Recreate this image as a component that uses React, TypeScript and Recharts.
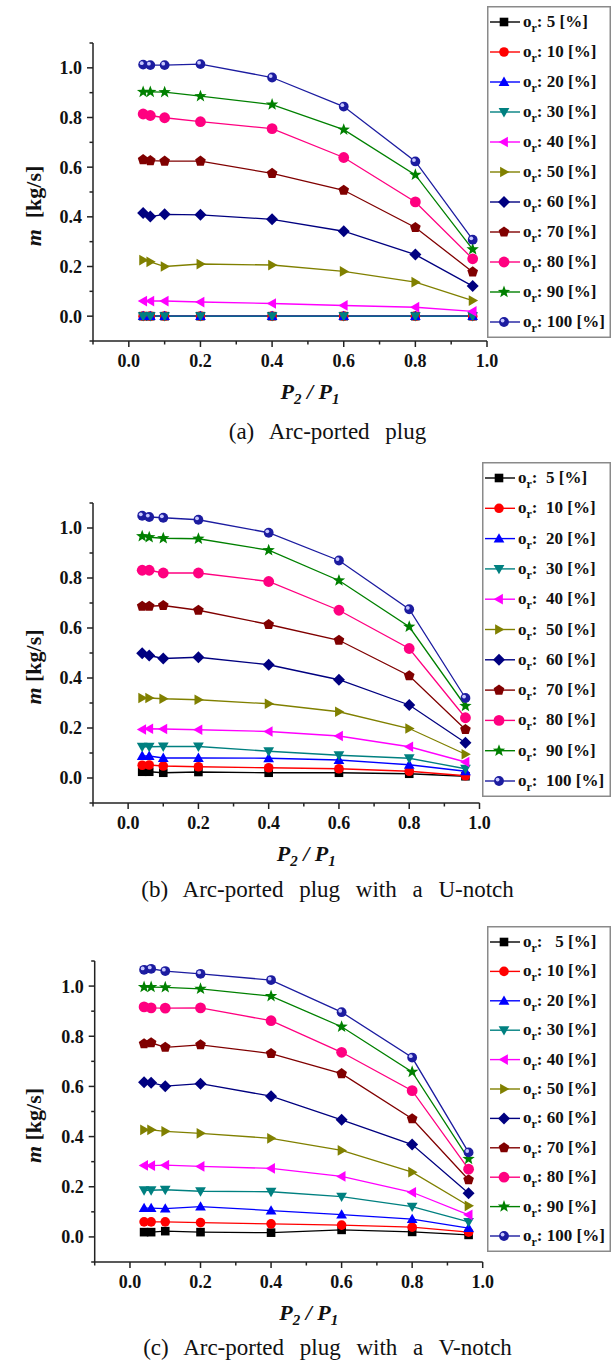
import React from 'react';
import { LineChart, Line, XAxis, YAxis, Label } from 'recharts';

// pressure ratio P2/P1 at which the mass flow was measured
const X_VALUES = [0.04, 0.06, 0.1, 0.2, 0.4, 0.6, 0.8, 0.96];

// valve opening o_r [%]
const OPENINGS = [5, 10, 20, 30, 40, 50, 60, 70, 80, 90, 100];

const SERIES_COLORS = [
  '#000000', '#ff0000', '#0000ff', '#008080', '#ff00ff', '#808000',
  '#000080', '#800000', '#ff0080', '#008000', '#1c1ca0'
];

const SERIES_SHAPES = [
  'square', 'circle', 'up', 'down', 'left', 'right',
  'diamond', 'pentagon', 'bigCircle', 'star', 'ball'
];

// (a) Arc-ported plug, m [kg/s], one row per opening
const FLOW_ARC: number[][] = [
  [0, 0, 0, 0, 0, 0, 0, 0],
  [0, 0, 0, 0, 0, 0, 0, 0],
  [0, 0, 0, 0, 0, 0, 0, 0],
  [0, 0, 0, 0, 0, 0, 0, 0],
  [0.061, 0.061, 0.061, 0.057, 0.051, 0.043, 0.036, 0.019],
  [0.226, 0.219, 0.2, 0.21, 0.206, 0.18, 0.137, 0.063],
  [0.415, 0.401, 0.41, 0.408, 0.39, 0.342, 0.248, 0.121],
  [0.63, 0.626, 0.624, 0.624, 0.575, 0.507, 0.357, 0.178],
  [0.814, 0.808, 0.799, 0.783, 0.755, 0.639, 0.46, 0.231],
  [0.903, 0.903, 0.902, 0.886, 0.852, 0.751, 0.569, 0.269],
  [1.013, 1.011, 1.011, 1.015, 0.961, 0.844, 0.623, 0.308]
];

// (b) Arc-ported plug with a U-notch
const FLOW_U_NOTCH: number[][] = [
  [0.025, 0.025, 0.021, 0.024, 0.021, 0.021, 0.017, 0.007],
  [0.051, 0.052, 0.048, 0.045, 0.041, 0.037, 0.027, 0.009],
  [0.088, 0.088, 0.08, 0.08, 0.079, 0.072, 0.053, 0.027],
  [0.125, 0.125, 0.126, 0.126, 0.107, 0.091, 0.079, 0.037],
  [0.194, 0.197, 0.196, 0.193, 0.186, 0.168, 0.125, 0.064],
  [0.32, 0.32, 0.317, 0.313, 0.297, 0.265, 0.198, 0.095],
  [0.499, 0.49, 0.478, 0.483, 0.453, 0.393, 0.292, 0.141],
  [0.687, 0.687, 0.69, 0.671, 0.614, 0.551, 0.409, 0.194],
  [0.831, 0.831, 0.82, 0.82, 0.786, 0.671, 0.518, 0.241],
  [0.967, 0.963, 0.959, 0.957, 0.911, 0.79, 0.605, 0.288],
  [1.049, 1.044, 1.041, 1.033, 0.981, 0.87, 0.675, 0.32]
];

// (c) Arc-ported plug with a V-notch
const FLOW_V_NOTCH: number[][] = [
  [0.019, 0.019, 0.023, 0.019, 0.017, 0.028, 0.02, 0.008],
  [0.06, 0.06, 0.06, 0.057, 0.052, 0.047, 0.039, 0.019],
  [0.115, 0.115, 0.113, 0.121, 0.105, 0.089, 0.071, 0.035],
  [0.186, 0.186, 0.188, 0.182, 0.18, 0.161, 0.121, 0.06],
  [0.285, 0.284, 0.286, 0.281, 0.273, 0.241, 0.178, 0.088],
  [0.427, 0.427, 0.421, 0.413, 0.393, 0.345, 0.258, 0.124],
  [0.617, 0.615, 0.601, 0.611, 0.561, 0.467, 0.368, 0.174],
  [0.77, 0.774, 0.756, 0.766, 0.731, 0.651, 0.471, 0.228],
  [0.917, 0.913, 0.912, 0.913, 0.862, 0.736, 0.583, 0.27],
  [0.996, 0.996, 0.995, 0.989, 0.96, 0.838, 0.658, 0.311],
  [1.065, 1.069, 1.06, 1.049, 1.024, 0.896, 0.715, 0.337]
];

const X_TICKS = [-0.1, 0, 0.1, 0.2, 0.3, 0.4, 0.5, 0.6, 0.7, 0.8, 0.9, 1.0];
const Y_TICKS = [-0.1, 0, 0.1, 0.2, 0.3, 0.4, 0.5, 0.6, 0.7, 0.8, 0.9, 1.0, 1.1];

const FONT = "'Liberation Serif', 'Times New Roman', serif";
const AXIS_COLOR = '#222';
const W = 613;

const isMajor = (v: number) => Math.abs(Math.round(v * 10)) % 2 === 0;

function polygon(cx: number, cy: number, n: number, r: number, rotDeg: number, inner?: number) {
  const pts: string[] = [];
  const count = inner ? n * 2 : n;
  for (let i = 0; i < count; i++) {
    const a = (rotDeg * Math.PI) / 180 + (i * 2 * Math.PI) / count;
    const rr = inner && i % 2 === 1 ? inner : r;
    pts.push(`${(cx + rr * Math.cos(a)).toFixed(2)},${(cy + rr * Math.sin(a)).toFixed(2)}`);
  }
  return pts.join(' ');
}

function Marker({ shape, cx, cy, color }: { shape: string; cx: number; cy: number; color: string }) {
  switch (shape) {
    case 'square':
      return <rect x={cx - 4.3} y={cy - 4.3} width={8.6} height={8.6} fill={color} />;
    case 'circle':
      return <circle cx={cx} cy={cy} r={4.8} fill={color} />;
    case 'bigCircle':
      return <circle cx={cx} cy={cy} r={5.4} fill={color} />;
    case 'up':
      return <polygon points={polygon(cx, cy + 0.8, 3, 6.2, -90)} fill={color} />;
    case 'down':
      return <polygon points={polygon(cx, cy - 0.8, 3, 6.2, 90)} fill={color} />;
    case 'left':
      return <polygon points={polygon(cx + 0.8, cy, 3, 6.2, 180)} fill={color} />;
    case 'right':
      return <polygon points={polygon(cx - 0.8, cy, 3, 6.2, 0)} fill={color} />;
    case 'diamond':
      return <polygon points={polygon(cx, cy, 4, 6, -90)} fill={color} />;
    case 'pentagon':
      return <polygon points={polygon(cx, cy, 5, 5.6, -90)} fill={color} />;
    case 'star':
      return <polygon points={polygon(cx, cy, 5, 6.5, -90, 2.7)} fill={color} />;
    case 'ball':
      return (
        <g>
          <circle cx={cx} cy={cy} r={4.9} fill={color} />
          <circle cx={cx - 1.4} cy={cy - 1.4} r={1.9} fill="#c8c8ff" />
        </g>
      );
    default:
      return null;
  }
}

const makeDot = (k: number) => (props: any) => {
  const { cx, cy, index } = props;
  if (cx == null || cy == null) return <g key={`n-${k}-${index}`} />;
  return <Marker key={`d-${k}-${index}`} shape={SERIES_SHAPES[k]} cx={cx} cy={cy} color={SERIES_COLORS[k]} />;
};

const YTick = (props: any) => {
  const { x, y, payload } = props;
  const v = payload.value;
  const major = isMajor(v);
  return (
    <g>
      <line x1={x} x2={x - (major ? 6 : 3.5)} y1={y} y2={y} stroke={AXIS_COLOR} strokeWidth={1.5} />
      {major && v > -0.05 && v < 1.05 && (
        <text x={x - 11} y={y} dy="0.36em" textAnchor="end" fontSize={18} fontWeight="bold" fontFamily={FONT} fill="#111">
          {v.toFixed(1)}
        </text>
      )}
    </g>
  );
};

const XTick = (props: any) => {
  const { x, y, payload } = props;
  const v = payload.value;
  const major = isMajor(v);
  return (
    <g>
      <line x1={x} x2={x} y1={y} y2={y + (major ? 6 : 3.5)} stroke={AXIS_COLOR} strokeWidth={1.5} />
      {major && v > -0.05 && (
        <text x={x} y={y + 26} textAnchor="middle" fontSize={18} fontWeight="bold" fontFamily={FONT} fill="#111">
          {v.toFixed(1)}
        </text>
      )}
    </g>
  );
};

interface PanelProps {
  flows: number[][];
  plotTop: number;
  plotBottom: number;
  plotLeft: number;
  plotRight: number;
  legendLeft: number;
  legendTop: number;
  legendBottom: number;
  caption: string;
  captionTop: number;
  legendText: (o: number) => string;
  yLabelGap: string;
}

function Panel(p: PanelProps) {
  const chartTop = p.plotTop - 30;
  const xAxisH = 75;
  const height = p.plotBottom - chartTop + xAxisH;
  const data = X_VALUES.map((x, i) => {
    const row: Record<string, number> = { x };
    p.flows.forEach((f, k) => {
      row[`s${k}`] = f[i];
    });
    return row;
  });

  const plotMid = (p.plotTop + p.plotBottom) / 2 - chartTop;
  const yLabel = () => (
    <text
      x={33}
      y={plotMid + 14}
      transform={`rotate(-90, 33, ${plotMid + 14})`}
      textAnchor="middle"
      dy="0.35em"
      fontSize={22}
      fontWeight="bold"
      fontFamily={FONT}
      fill="#111"
      style={{ whiteSpace: 'pre' }}
    >
      <tspan fontStyle="italic">m</tspan>
      <tspan>{`${p.yLabelGap}[kg/s]`}</tspan>
    </text>
  );

  const xLabelX = (p.plotLeft + p.plotRight) / 2 + 20;
  const xLabelY = p.plotBottom - chartTop + 58;
  const xLabel = () => (
    <text x={xLabelX} y={xLabelY} textAnchor="middle" fontSize={22} fontWeight="bold" fontStyle="italic" fontFamily={FONT} fill="#111" style={{ whiteSpace: 'pre' }}>
      <tspan>P</tspan>
      <tspan fontSize={15} dy={5}>2</tspan>
      <tspan dy={-5}>{' / P'}</tspan>
      <tspan fontSize={15} dy={5}>1</tspan>
    </text>
  );

  const legendW = W - 2 - p.legendLeft;
  const legendH = p.legendBottom - p.legendTop;
  const pad = 16;
  const step = (legendH - 2 * pad) / (OPENINGS.length - 1);

  return (
    <>
      <div style={{ position: 'absolute', left: 0, top: chartTop }}>
        <LineChart
          width={W}
          height={height}
          data={data}
          margin={{ top: p.plotTop - chartTop, right: W - p.plotRight, left: 0, bottom: 0 }}
        >
          <XAxis
            type="number"
            dataKey="x"
            domain={[-0.1, 1.0]}
            ticks={X_TICKS}
            interval={0}
            allowDataOverflow
            height={xAxisH}
            tickSize={0}
            tickMargin={0}
            tickLine={false}
            axisLine={{ stroke: AXIS_COLOR, strokeWidth: 1.5 }}
            tick={<XTick />}
          >
            <Label content={xLabel} />
          </XAxis>
          <YAxis
            type="number"
            domain={[-0.1, 1.1]}
            ticks={Y_TICKS}
            interval={0}
            allowDataOverflow
            width={p.plotLeft}
            tickSize={0}
            tickMargin={0}
            tickLine={false}
            axisLine={{ stroke: AXIS_COLOR, strokeWidth: 1.5 }}
            tick={<YTick />}
          >
            <Label content={yLabel} />
          </YAxis>
          {OPENINGS.map((o, k) => (
            <Line
              key={o}
              type="linear"
              dataKey={`s${k}`}
              name={`${o}`}
              stroke={SERIES_COLORS[k]}
              strokeWidth={1.3}
              dot={makeDot(k)}
              activeDot={false}
              isAnimationActive={false}
            />
          ))}
        </LineChart>
      </div>

      <svg
        width={legendW}
        height={legendH}
        style={{ position: 'absolute', left: p.legendLeft, top: p.legendTop, overflow: 'visible' }}
      >
        <rect x={0.75} y={0.75} width={legendW - 1.5} height={legendH - 1.5} fill="#fff" stroke="#8a8a8a" strokeWidth={1.5} />
        {OPENINGS.map((o, k) => {
          const cy = pad + k * step;
          return (
            <g key={o}>
              <line x1={3} x2={33} y1={cy} y2={cy} stroke={SERIES_COLORS[k]} strokeWidth={1.4} />
              <Marker shape={SERIES_SHAPES[k]} cx={17} cy={cy} color={SERIES_COLORS[k]} />
              <text x={36} y={cy + 5} fontSize={17} fontWeight="bold" fontFamily={FONT} fill="#111" style={{ whiteSpace: 'pre' }}>
                <tspan>o</tspan>
                <tspan fontSize={12} dy={5}>r</tspan>
                <tspan dy={-5}>{p.legendText(o)}</tspan>
              </text>
            </g>
          );
        })}
      </svg>

      <div
        style={{
          position: 'absolute',
          left: 0,
          top: p.captionTop,
          width: 655,
          textAlign: 'center',
          fontFamily: FONT,
          fontSize: 23,
          lineHeight: '26px',
          wordSpacing: 10,
          whiteSpace: 'nowrap',
          color: '#111'
        }}
      >
        {p.caption}
      </div>
    </>
  );
}

export default function App() {
  return (
    <div style={{ position: 'absolute', left: 0, top: 0, width: W, height: 1362, background: '#fff', overflow: 'hidden' }}>
      <Panel
        flows={FLOW_ARC}
        plotTop={43}
        plotBottom={341}
        plotLeft={93}
        plotRight={487}
        legendLeft={487}
        legendTop={6}
        legendBottom={338}
        caption="(a) Arc-ported plug"
        captionTop={419}
        legendText={(o) => `: ${o} [%]`}
        yLabelGap="  "
      />
      <Panel
        flows={FLOW_U_NOTCH}
        plotTop={503}
        plotBottom={803}
        plotLeft={93}
        plotRight={479.5}
        legendLeft={482}
        legendTop={462}
        legendBottom={797}
        caption="(b) Arc-ported plug with a U-notch"
        captionTop={877}
        legendText={(o) => `:  ${o} [%]`}
        yLabelGap=" "
      />
      <Panel
        flows={FLOW_V_NOTCH}
        plotTop={961}
        plotBottom={1262}
        plotLeft={94.7}
        plotRight={482.7}
        legendLeft={487}
        legendTop={926}
        legendBottom={1252}
        caption="(c) Arc-ported plug with a V-notch"
        captionTop={1335}
        legendText={(o) => (o < 10 ? `:   ${o} [%]` : `: ${o} [%]`)}
        yLabelGap=" "
      />
    </div>
  );
}
